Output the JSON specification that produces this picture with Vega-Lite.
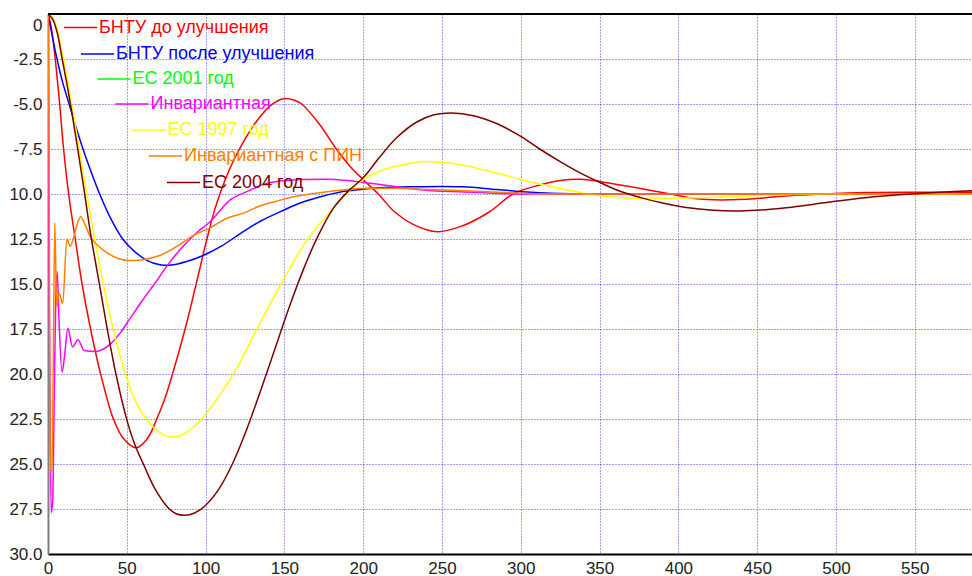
{
  "$schema": "https://vega.github.io/schema/vega-lite/v6.json",
  "width": 924,
  "height": 540,
  "autosize": {"type": "none"},
  "padding": {"left": 48, "top": 14, "right": 0, "bottom": 22},
  "background": "white",
  "datasets": {
    "r": [{"t":0,"v":0},{"t":1.5,"v":-0.5},{"t":3,"v":-1.3},{"t":4.6,"v":-2.5},{"t":7.4,"v":-5},{"t":9.9,"v":-7.5},{"t":13.1,"v":-10},{"t":17.3,"v":-12.5},{"t":21.6,"v":-15},{"t":27,"v":-17.5},{"t":33.4,"v":-20},{"t":41.5,"v":-22.5},{"t":48,"v":-23.6},{"t":56,"v":-24.1},{"t":63,"v":-23.6},{"t":69,"v":-22.5},{"t":74,"v":-21.4},{"t":79,"v":-20},{"t":87,"v":-17.5},{"t":94,"v":-15},{"t":100,"v":-12.8},{"t":106,"v":-10.8},{"t":112,"v":-9.3},{"t":118,"v":-8.1},{"t":124,"v":-7.1},{"t":132,"v":-6.0},{"t":141,"v":-5.1},{"t":150,"v":-4.7},{"t":156,"v":-4.78},{"t":161,"v":-5},{"t":172,"v":-6.1},{"t":183,"v":-7.5},{"t":192,"v":-8.5},{"t":200,"v":-9.2},{"t":209.6,"v":-10},{"t":220,"v":-11},{"t":232,"v":-11.7},{"t":247,"v":-12.1},{"t":262,"v":-11.8},{"t":280,"v":-11},{"t":295,"v":-10},{"t":312,"v":-9.5},{"t":325,"v":-9.25},{"t":338,"v":-9.18},{"t":350,"v":-9.3},{"t":370,"v":-9.6},{"t":395,"v":-10},{"t":410,"v":-10.25},{"t":428,"v":-10.33},{"t":450,"v":-10.25},{"t":470,"v":-10.1},{"t":492,"v":-10},{"t":520,"v":-9.92},{"t":550,"v":-9.9},{"t":587,"v":-9.9}],
    "b": [{"t":0,"v":0},{"t":2,"v":-0.9},{"t":4,"v":-1.8},{"t":6,"v":-2.6},{"t":9,"v":-3.7},{"t":13.7,"v":-5.1},{"t":18,"v":-6.35},{"t":22.2,"v":-7.5},{"t":27.5,"v":-8.8},{"t":32.8,"v":-10},{"t":40,"v":-11.4},{"t":47.4,"v":-12.5},{"t":55,"v":-13.2},{"t":63,"v":-13.7},{"t":71,"v":-13.93},{"t":78,"v":-13.95},{"t":88,"v":-13.75},{"t":98.8,"v":-13.4},{"t":110,"v":-12.9},{"t":122,"v":-12.2},{"t":135,"v":-11.5},{"t":149.5,"v":-10.9},{"t":160,"v":-10.5},{"t":172.8,"v":-10.15},{"t":185,"v":-9.9},{"t":198,"v":-9.75},{"t":210,"v":-9.65},{"t":230,"v":-9.6},{"t":263,"v":-9.6},{"t":285,"v":-9.75},{"t":316,"v":-9.95},{"t":360,"v":-10},{"t":587,"v":-10}],
    "g": [],
    "m": [{"t":0,"v":0},{"t":0.5,"v":-11.9},{"t":1.2,"v":-20.3},{"t":2,"v":-27.7},{"t":3,"v":-27},{"t":4,"v":-21},{"t":5,"v":-15.5},{"t":5.8,"v":-14.3},{"t":7,"v":-17},{"t":8.9,"v":-19.9},{"t":10.5,"v":-19},{"t":12.6,"v":-17.46},{"t":15.5,"v":-18.5},{"t":19,"v":-18.1},{"t":23,"v":-18.7},{"t":30,"v":-18.75},{"t":40,"v":-18.3},{"t":46,"v":-17.7},{"t":52.2,"v":-16.9},{"t":60,"v":-15.9},{"t":67.5,"v":-15},{"t":78,"v":-13.7},{"t":88,"v":-12.7},{"t":95,"v":-12.1},{"t":103.4,"v":-11.5},{"t":109.3,"v":-10.9},{"t":116,"v":-10.3},{"t":124,"v":-9.95},{"t":130.5,"v":-9.7},{"t":137,"v":-9.45},{"t":145,"v":-9.3},{"t":152,"v":-9.25},{"t":160,"v":-9.2},{"t":177,"v":-9.18},{"t":190,"v":-9.25},{"t":200,"v":-9.35},{"t":221,"v":-9.6},{"t":242,"v":-9.8},{"t":270,"v":-9.9},{"t":300,"v":-10},{"t":587,"v":-10}],
    "y": [{"t":0,"v":0},{"t":3,"v":-0.2},{"t":6,"v":-0.9},{"t":9.3,"v":-2.3},{"t":12,"v":-3.5},{"t":15,"v":-5},{"t":18.5,"v":-6.8},{"t":22.5,"v":-8.9},{"t":27,"v":-11.2},{"t":31.5,"v":-13.4},{"t":36,"v":-15.4},{"t":41,"v":-17.4},{"t":49.5,"v":-20.1},{"t":56,"v":-21.6},{"t":63.2,"v":-22.6},{"t":70,"v":-23.2},{"t":79,"v":-23.5},{"t":88,"v":-23.25},{"t":98,"v":-22.45},{"t":108,"v":-21.3},{"t":119,"v":-19.8},{"t":132.6,"v":-17.5},{"t":148.5,"v":-14.9},{"t":164,"v":-12.6},{"t":172,"v":-11.7},{"t":180,"v":-10.9},{"t":188,"v":-10.1},{"t":200,"v":-9.2},{"t":210,"v":-8.75},{"t":221.5,"v":-8.45},{"t":238,"v":-8.2},{"t":250,"v":-8.25},{"t":264,"v":-8.4},{"t":285,"v":-8.85},{"t":305,"v":-9.3},{"t":325,"v":-9.7},{"t":340,"v":-9.96},{"t":355,"v":-10.15},{"t":376,"v":-10.24},{"t":400,"v":-10.22},{"t":418,"v":-10.2},{"t":440,"v":-10.12},{"t":460,"v":-10.06},{"t":490,"v":-10},{"t":587,"v":-10}],
    "o": [{"t":0,"v":0},{"t":0.5,"v":-3.7},{"t":1.5,"v":-25.4},{"t":2.5,"v":-25.4},{"t":3.3,"v":-20},{"t":4.3,"v":-11.6},{"t":5.5,"v":-16.3},{"t":7,"v":-15.5},{"t":9.3,"v":-16.1},{"t":12,"v":-12.5},{"t":14,"v":-12.9},{"t":16,"v":-12.5},{"t":18.8,"v":-11.6},{"t":20.7,"v":-11.26},{"t":23.5,"v":-11.7},{"t":27,"v":-12.4},{"t":31.5,"v":-12.85},{"t":38,"v":-13.3},{"t":45,"v":-13.6},{"t":52,"v":-13.7},{"t":60,"v":-13.65},{"t":71.3,"v":-13.4},{"t":82,"v":-12.9},{"t":92.4,"v":-12.3},{"t":103.4,"v":-11.85},{"t":113.6,"v":-11.35},{"t":124.6,"v":-11.05},{"t":134.7,"v":-10.65},{"t":145,"v":-10.4},{"t":155.8,"v":-10.15},{"t":166,"v":-10.0},{"t":177,"v":-9.87},{"t":190,"v":-9.75},{"t":200,"v":-9.68},{"t":220,"v":-9.68},{"t":242,"v":-9.75},{"t":265,"v":-9.82},{"t":285,"v":-9.9},{"t":320,"v":-10},{"t":587,"v":-10}],
    "d": [{"t":0,"v":0},{"t":3,"v":-0.3},{"t":6,"v":-1.1},{"t":9,"v":-2.5},{"t":12,"v":-3.9},{"t":15,"v":-5.4},{"t":18.5,"v":-7.3},{"t":22.6,"v":-9.6},{"t":27,"v":-12.2},{"t":32.6,"v":-15},{"t":37.8,"v":-17.6},{"t":43.1,"v":-20},{"t":50.5,"v":-22.7},{"t":55,"v":-23.9},{"t":61,"v":-25.1},{"t":68,"v":-26.4},{"t":75.9,"v":-27.4},{"t":81,"v":-27.75},{"t":87,"v":-27.85},{"t":93,"v":-27.72},{"t":98.7,"v":-27.4},{"t":108,"v":-26.45},{"t":117,"v":-25.0},{"t":126,"v":-23.1},{"t":135,"v":-20.9},{"t":144,"v":-18.6},{"t":153,"v":-16.3},{"t":162,"v":-14.2},{"t":171,"v":-12.4},{"t":181,"v":-10.8},{"t":191,"v":-9.8},{"t":200,"v":-9.1},{"t":210,"v":-8},{"t":221.5,"v":-6.85},{"t":234,"v":-6.0},{"t":245,"v":-5.6},{"t":256,"v":-5.5},{"t":270,"v":-5.65},{"t":285,"v":-6.1},{"t":300,"v":-6.8},{"t":312,"v":-7.5},{"t":325,"v":-8.2},{"t":337,"v":-8.8},{"t":350,"v":-9.35},{"t":363,"v":-9.85},{"t":376,"v":-10.2},{"t":390,"v":-10.5},{"t":405,"v":-10.75},{"t":422,"v":-10.9},{"t":439,"v":-10.94},{"t":455,"v":-10.87},{"t":470,"v":-10.75},{"t":485,"v":-10.58},{"t":500,"v":-10.4},{"t":524,"v":-10.15},{"t":550,"v":-9.98},{"t":566,"v":-9.9},{"t":587,"v":-9.82}]
  },
  "layer": [
    {
      "data": {"name": "r"},
      "mark": {"type": "line", "strokeWidth": 1.5, "clip": true, "interpolate": "catmull-rom"},
      "encoding": {
        "x": {"field": "t", "type": "quantitative", "scale": {"domain": [0, 586.3], "nice": false, "zero": false},
          "axis": {"title": null, "values": [0,50,100,150,200,250,300,350,400,450,500,550], "labelPadding": 6, "labelFlush": false, "labelOverlap": false, "labelBound": false, "domainColor": "#000000", "domainWidth": 2}},
        "y": {"field": "v", "type": "quantitative", "scale": {"domain": [-30, 0], "nice": false},
          "axis": {"title": null, "values": [0,-2.5,-5,-7.5,-10,-12.5,-15,-17.5,-20,-22.5,-25,-27.5,-30],
            "labelExpr": "datum.value == 0 ? '0' : (datum.value > -10 ? '-' + format(-datum.value, '.1f') : format(-datum.value, '.1f'))",
            "labelPadding": 6, "labelFlush": false, "labelOverlap": false, "labelBound": false, "domainColor": "#808080", "domainWidth": 2,
            "labelBaseline": {"condition": {"test": "datum.value == 0", "value": "top"}, "value": "middle"},
            "labelOffset": {"condition": {"test": "datum.value == 0", "value": 3}, "value": 0}}},
        "color": {"datum": "БНТУ до улучшения", "type": "nominal", "scale": {"domain": ["БНТУ до улучшения"], "range": ["#ff0000"]},
          "legend": {"legendX": 15, "legendY": -4, "labelColor": "#ff0000"}}
      }
    },
    {
      "data": {"name": "b"},
      "mark": {"type": "line", "strokeWidth": 1.5, "clip": true, "interpolate": "catmull-rom"},
      "encoding": {
        "x": {"field": "t", "type": "quantitative"},
        "y": {"field": "v", "type": "quantitative"},
        "color": {"datum": "БНТУ после улучшения", "type": "nominal", "scale": {"domain": ["БНТУ после улучшения"], "range": ["#0000ff"]},
          "legend": {"legendX": 32, "legendY": 22.5, "labelColor": "#0000ff"}}
      }
    },
    {
      "data": {"name": "g"},
      "mark": {"type": "line", "strokeWidth": 1.5, "clip": true, "interpolate": "catmull-rom"},
      "encoding": {
        "x": {"field": "t", "type": "quantitative"},
        "y": {"field": "v", "type": "quantitative"},
        "color": {"datum": "ЕС 2001 год", "type": "nominal", "scale": {"domain": ["ЕС 2001 год"], "range": ["#00ff00"]},
          "legend": {"legendX": 48.5, "legendY": 47.5, "labelColor": "#00ff00"}}
      }
    },
    {
      "data": {"name": "m"},
      "mark": {"type": "line", "strokeWidth": 1.5, "clip": true, "interpolate": "monotone"},
      "encoding": {
        "x": {"field": "t", "type": "quantitative"},
        "y": {"field": "v", "type": "quantitative"},
        "color": {"datum": "Инвариантная", "type": "nominal", "scale": {"domain": ["Инвариантная"], "range": ["#ff00ff"]},
          "legend": {"legendX": 66.5, "legendY": 72.5, "labelColor": "#ff00ff"}}
      }
    },
    {
      "data": {"name": "y"},
      "mark": {"type": "line", "strokeWidth": 1.5, "clip": true, "interpolate": "catmull-rom"},
      "encoding": {
        "x": {"field": "t", "type": "quantitative"},
        "y": {"field": "v", "type": "quantitative"},
        "color": {"datum": "ЕС 1997 год", "type": "nominal", "scale": {"domain": ["ЕС 1997 год"], "range": ["#ffff00"]},
          "legend": {"legendX": 83.5, "legendY": 98.5, "labelColor": "#ffff00"}}
      }
    },
    {
      "data": {"name": "o"},
      "mark": {"type": "line", "strokeWidth": 1.5, "clip": true, "interpolate": "monotone"},
      "encoding": {
        "x": {"field": "t", "type": "quantitative"},
        "y": {"field": "v", "type": "quantitative"},
        "color": {"datum": "Инвариантная с ПИН", "type": "nominal", "scale": {"domain": ["Инвариантная с ПИН"], "range": ["#ff8000"]},
          "legend": {"legendX": 100, "legendY": 124.5, "labelColor": "#ff8000"}}
      }
    },
    {
      "data": {"name": "d"},
      "mark": {"type": "line", "strokeWidth": 1.5, "clip": true, "interpolate": "catmull-rom"},
      "encoding": {
        "x": {"field": "t", "type": "quantitative"},
        "y": {"field": "v", "type": "quantitative"},
        "color": {"datum": "ЕС 2004 год", "type": "nominal", "scale": {"domain": ["ЕС 2004 год"], "range": ["#800000"]},
          "legend": {"legendX": 118, "legendY": 151, "labelColor": "#800000"}}
      }
    },
    {
      "data": {"values": [{}]},
      "mark": {"type": "rule", "color": "#000000", "strokeWidth": 2},
      "encoding": {"y": {"datum": 0}}
    }
  ],
  "resolve": {"scale": {"color": "independent"}, "legend": {"color": "independent"}},
  "config": {
    "view": {"stroke": null},
    "axis": {"labelFont": "Liberation Sans", "labelFontSize": 17, "labelColor": "#222222", "ticks": false, "grid": true, "gridColor": "#0000ff", "gridDash": [1, 2], "gridOpacity": 0.75, "gridWidth": 1},
    "legend": {"orient": "none", "title": null, "symbolType": "stroke", "symbolSize": 1100, "symbolStrokeWidth": 1.5, "labelFont": "Liberation Sans", "labelFontSize": 18, "labelOffset": 1, "labelLimit": 0, "padding": 0}
  }
}
